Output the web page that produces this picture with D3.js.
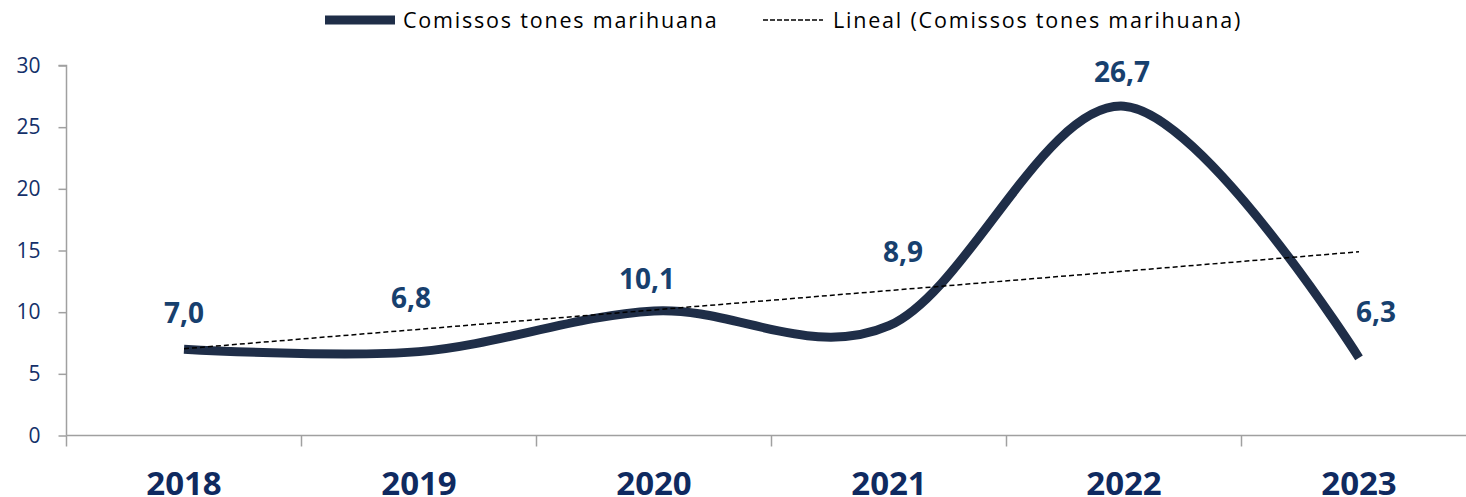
<!DOCTYPE html>
<html>
<head>
<meta charset="utf-8">
<script src="https://cdn.jsdelivr.net/npm/d3@7"></script>
<style>
  body { margin: 0; background: #fff; }
  svg { display: block; font-family: "Open Sans", Lato, sans-serif; }
</style>
</head>
<body>
<svg id="chart" width="1466" height="497"></svg>
<script>
const years = ['2018', '2019', '2020', '2021', '2022', '2023'],
  tones = [7.0, 6.8, 10.1, 8.9, 26.7, 6.3],
  yTicks = [0, 5, 10, 15, 20, 25, 30],
  seriesName = 'Comissos tones marihuana',
  trendName = 'Lineal (Comissos tones marihuana)';

// manual nudges of the value labels, as in the original
const labelNudge = [[0, -26], [-8, -44], [-7, -22], [14, -64], [-2, -24], [17, -36]];

const svg = d3.select('#chart');

const x = d3.scaleBand()
  .domain(years)
  .range([66.5, 1476.5]);

const y = d3.scaleLinear()
  .domain([0, 30])
  .range([435.5, 65.5]);

const cx = (d, i) => x(years[i]) + x.bandwidth() / 2;

// axes
const yAxis = svg.append('g')
  .attr('transform', 'translate(66.5,0)')
  .call(d3.axisLeft(y).tickValues(yTicks).tickSize(8).tickPadding(18).tickFormat(d3.format('d')));
yAxis.select('.domain').attr('stroke', '#a0a0a0').attr('stroke-width', 1.5).attr('d', `M-8,${y(30)}H0V${y(0)}`);
yAxis.selectAll('.tick line').attr('stroke', '#a0a0a0').attr('stroke-width', 1.5);
yAxis.selectAll('.tick text')
  .attr('fill', '#14306a')
  .style('font-size', '21px')
  .style('font-family', '"Open Sans"');

const xAxis = svg.append('g')
  .attr('transform', `translate(0,${y(0)})`)
  .call(d3.axisBottom(x).tickSize(0).tickPadding(0));
xAxis.select('.domain').attr('stroke', '#a0a0a0').attr('stroke-width', 1.5).attr('d', `M66.5,0H1476.5`);
xAxis.selectAll('.tick text')
  .attr('y', 59)
  .attr('dy', 0)
  .attr('fill', '#0f2a60')
  .style('font-size', '33px')
  .style('font-weight', 'bold')
  .style('font-family', '"Open Sans"');

// category separators
svg.append('g')
  .selectAll('line')
  .data(years)
  .enter().append('line')
  .attr('x1', (d) => x(d))
  .attr('x2', (d) => x(d))
  .attr('y1', y(0))
  .attr('y2', y(0) + 11)
  .attr('stroke', '#a0a0a0')
  .attr('stroke-width', 1.5);

// series
svg.append('path')
  .datum(tones)
  .attr('fill', 'none')
  .attr('stroke', '#1f2e48')
  .attr('stroke-width', 9)
  .attr('d', d3.line().x(cx).y((d) => y(d)).curve(d3.curveCardinal));

// linear trend (least squares)
const n = tones.length,
  mx = (n + 1) / 2,
  my = d3.mean(tones),
  slope = d3.sum(tones, (d, i) => (i + 1 - mx) * (d - my)) / d3.sum(tones, (d, i) => (i + 1 - mx) ** 2);
const trend = tones.map((d, i) => my + slope * (i + 1 - mx));

svg.append('path')
  .datum([trend[0], trend[n - 1]])
  .attr('fill', 'none')
  .attr('stroke', '#000')
  .attr('stroke-width', 1.5)
  .attr('stroke-dasharray', '5,3')
  .attr('d', d3.line().x((d, i) => cx(d, i === 0 ? 0 : n - 1)).y((d) => y(d)));

// value labels
svg.append('g')
  .selectAll('text')
  .data(tones)
  .enter().append('text')
  .attr('x', (d, i) => cx(d, i) + labelNudge[i][0])
  .attr('y', (d, i) => y(d) + labelNudge[i][1])
  .attr('text-anchor', 'middle')
  .attr('fill', '#17406e')
  .style('font-size', '28px')
  .style('font-weight', 'bold')
  .text((d) => d.toFixed(1).replace('.', ','));

// legend
const legend = svg.append('g')
  .style('font-size', '21.5px')
  .style('letter-spacing', '1.8px');
legend.append('line')
  .attr('x1', 325).attr('x2', 395).attr('y1', 20).attr('y2', 20)
  .attr('stroke', '#1f2e48').attr('stroke-width', 9);
legend.append('text')
  .attr('x', 403).attr('y', 28)
  .attr('fill', '#000')
  .text(seriesName);
legend.append('line')
  .attr('x1', 763).attr('x2', 823).attr('y1', 20).attr('y2', 20)
  .attr('stroke', '#000').attr('stroke-width', 1.5).attr('stroke-dasharray', '5,2');
legend.append('text')
  .attr('x', 833).attr('y', 28)
  .attr('fill', '#000')
  .text(trendName);
</script>
</body>
</html>
